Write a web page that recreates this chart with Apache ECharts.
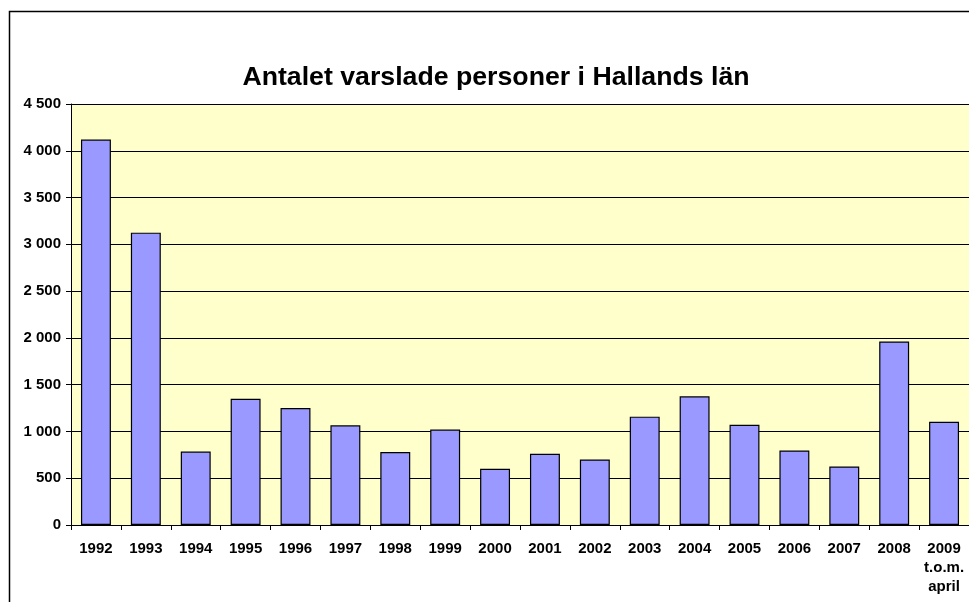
<!DOCTYPE html>
<html>
<head>
<meta charset="utf-8">
<script src="https://cdn.jsdelivr.net/npm/echarts@6/dist/echarts.min.js"></script>
<style>
  html, body { margin: 0; padding: 0; background: #fff; }
  #chart { width: 969px; height: 602px; }
</style>
</head>
<body>
<div id="chart"></div>
<script>
const years = ["1992", "1993", "1994", "1995", "1996", "1997", "1998", "1999", "2000",
  "2001", "2002", "2003", "2004", "2005", "2006", "2007", "2008", "2009\nt.o.m.\napril"];
const varslade = [4120, 3125, 785, 1350, 1250, 1065, 780, 1020, 600,
  762, 700, 1158, 1375, 1072, 797, 626, 1962, 1104];

const chart = echarts.init(document.getElementById("chart"));
const option = {
  animation: false,
  title: {
    text: "Antalet varslade personer i Hallands län",
    left: 491,
    top: 59,
    textAlign: "center",
    textStyle: { fontFamily: "Liberation Sans", fontSize: 26.7, fontWeight: "bold", color: "#000" },
  },
  graphic: [
    {
      type: "rect",
      shape: { x: 9.5, y: 11.5, width: 1000, height: 1000 },
      style: { fill: "none", stroke: "#000", lineWidth: 1.5 },
      silent: true,
    },
  ],
  grid: {
    left: 71,
    top: 104,
    width: 900,
    height: 421,
    show: true,
    backgroundColor: "#FFFFCC",
    borderWidth: 0,
  },
  xAxis: {
    type: "category",
    data: years,
    axisLine: { lineStyle: { color: "#000", width: 1 } },
    axisTick: { show: true, alignWithLabel: false, length: 5, lineStyle: { color: "#000" } },
    axisLabel: {
      interval: 0,
      margin: 14,
      lineHeight: 19,
      fontFamily: "Liberation Sans",
      fontSize: 15,
      fontWeight: "bold",
      color: "#000",
    },
  },
  yAxis: {
    type: "value",
    min: 0,
    max: 4500,
    interval: 500,
    axisLine: { show: true, lineStyle: { color: "#000", width: 1 } },
    axisTick: { show: true, length: 5, lineStyle: { color: "#000" } },
    splitLine: { lineStyle: { color: "#000", width: 1 } },
    axisLabel: {
      margin: 10,
      fontFamily: "Liberation Sans",
      fontSize: 15,
      fontWeight: "bold",
      color: "#000",
      formatter: (v) => String(v).replace(/\B(?=(\d{3})+(?!\d))/g, " "),
    },
  },
  series: [
    {
      type: "bar",
      data: varslade,
      barWidth: "60%",
      itemStyle: { color: "#9999FF", borderColor: "#000", borderWidth: 1.2 },
    },
  ],
};
chart.setOption(option);
</script>
</body>
</html>
